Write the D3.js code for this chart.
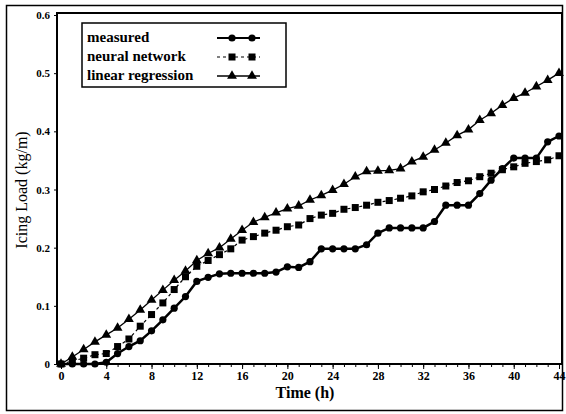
<!DOCTYPE html>
<html>
<head>
<meta charset="utf-8">
<script src="https://cdn.jsdelivr.net/npm/d3@7"></script>
<style>
  body { margin: 0; background: #fff; }
  svg text { font-family: "Liberation Serif", "Times New Roman", serif; fill: #000; }
</style>
</head>
<body>
<svg id="chart"></svg>
<script>
// data, one value per hour
const hours = d3.range(0, 45);
const measured = [0, 0, 0, 0, 0.003, 0.018, 0.03, 0.04, 0.057, 0.076, 0.096, 0.116, 0.142, 0.149, 0.155,
  0.156, 0.156, 0.156, 0.156, 0.158, 0.167, 0.166, 0.176, 0.198, 0.198, 0.198, 0.198, 0.205, 0.225, 0.234,
  0.234, 0.234, 0.234, 0.245, 0.273, 0.273, 0.273, 0.293, 0.316, 0.336, 0.354, 0.354, 0.354, 0.382, 0.392];
const neural = [0, 0.005, 0.01, 0.016, 0.018, 0.03, 0.043, 0.065, 0.085, 0.105, 0.128, 0.15, 0.168, 0.178, 0.188,
  0.198, 0.213, 0.219, 0.225, 0.23, 0.236, 0.239, 0.25, 0.256, 0.259, 0.266, 0.269, 0.273, 0.278, 0.281,
  0.285, 0.289, 0.296, 0.3, 0.306, 0.312, 0.315, 0.322, 0.328, 0.334, 0.339, 0.345, 0.348, 0.351, 0.358];
const linear = [0, 0.012, 0.025, 0.038, 0.05, 0.062, 0.077, 0.093, 0.11, 0.127, 0.144, 0.16, 0.178, 0.19, 0.2,
  0.215, 0.23, 0.244, 0.252, 0.26, 0.267, 0.272, 0.282, 0.29, 0.299, 0.309, 0.322, 0.331, 0.332, 0.333,
  0.336, 0.348, 0.356, 0.368, 0.38, 0.393, 0.403, 0.419, 0.431, 0.445, 0.457, 0.466, 0.477, 0.488, 0.5];
const xTicks = [0, 4, 8, 12, 16, 20, 24, 28, 32, 36, 40, 44];
const yTicks = [0, 0.1, 0.2, 0.3, 0.4, 0.5, 0.6];
const seriesNames = ["measured", "neural network", "linear regression"];

const width = 566, height = 414;
const box = {left: 57, right: 562, top: 13, bottom: 364};

const svg = d3.select('#chart')
    .attr('width', width)
    .attr('height', height);

// outer frame
svg.append('rect')
    .attr('x', 6.5).attr('y', 5.5)
    .attr('width', 556).attr('height', 405)
    .attr('fill', 'none').attr('stroke', '#000').attr('stroke-width', 1.5);

const x = d3.scaleLinear().domain([0, 44]).range([61, 559]);
const y = d3.scaleLinear().domain([0, 0.6]).range([364, 15]);

// x axis (major + hourly minor ticks)
svg.append('g')
    .attr('transform', 'translate(0,' + box.bottom + ')')
    .call(d3.axisBottom(x).tickValues(hours).tickSize(3).tickFormat(''))
    .call(g => g.select('.domain').remove());
svg.append('g')
    .attr('transform', 'translate(0,' + box.bottom + ')')
    .call(d3.axisBottom(x).tickValues(xTicks).tickSize(5).tickPadding(2).tickFormat(d3.format('d')))
    .call(g => g.select('.domain').remove())
    .selectAll('text')
    .style('font-size', '12px')
    .style('font-weight', 'bold');

// y axis
svg.append('g')
    .attr('transform', 'translate(' + box.left + ',0)')
    .call(d3.axisLeft(y).tickValues(yTicks).tickSize(3).tickPadding(4)
        .tickFormat(d => d === 0 ? '0' : d3.format('.1f')(d)))
    .call(g => g.select('.domain').remove())
    .selectAll('text')
    .style('font-size', '11px')
    .style('font-weight', 'bold');

// plot box
svg.append('rect')
    .attr('x', box.left).attr('y', box.top)
    .attr('width', box.right - box.left).attr('height', box.bottom - box.top)
    .attr('fill', 'none').attr('stroke', '#000').attr('stroke-width', 2);

// axis titles
svg.append('text')
    .attr('x', 305).attr('y', 398)
    .attr('text-anchor', 'middle')
    .style('font-size', '16px').style('font-weight', 'bold')
    .text('Time (h)');
svg.append('text')
    .attr('transform', 'translate(27,190) rotate(-90)')
    .attr('text-anchor', 'middle')
    .style('font-size', '16px')
    .text('Icing Load (kg/m)');

const line = d3.line().x((d, i) => x(hours[i])).y(d => y(d));

function drawMarker(g, type, cx, cy) {
    if (type === 'circle') {
        g.append('circle').attr('cx', cx).attr('cy', cy).attr('r', 3.6).attr('fill', '#000');
    } else if (type === 'square') {
        g.append('rect').attr('x', cx - 3.5).attr('y', cy - 3.5).attr('width', 7).attr('height', 7).attr('fill', '#000');
    } else {
        g.append('path')
            .attr('d', d3.symbol().type(d3.symbolTriangle).size(42)())
            .attr('transform', 'translate(' + cx + ',' + cy + ')')
            .attr('fill', '#000');
    }
}

const series = [
    {values: linear, marker: 'triangle', width: 1.3, dash: null},
    {values: neural, marker: 'square', width: 1.2, dash: '3,3'},
    {values: measured, marker: 'circle', width: 2.5, dash: null}
];

series.forEach(function(s) {
    const g = svg.append('g');
    g.append('path')
        .datum(s.values)
        .attr('d', line)
        .attr('fill', 'none')
        .attr('stroke', '#000')
        .attr('stroke-width', s.width)
        .attr('stroke-dasharray', s.dash);
    s.values.forEach(function(v, i) {
        drawMarker(g, s.marker, x(hours[i]), y(v));
    });
});

// legend
const legend = svg.append('g');
legend.append('rect')
    .attr('x', 82).attr('y', 23).attr('width', 204).attr('height', 64)
    .attr('fill', '#fff').attr('stroke', '#000').attr('stroke-width', 1.5);
const legendStyle = [
    {marker: 'circle', width: 2.2, dash: null},
    {marker: 'square', width: 1.2, dash: '3,3'},
    {marker: 'triangle', width: 1.3, dash: null}
];
seriesNames.forEach(function(name, i) {
    const ly = 38 + i * 19;
    legend.append('text')
        .attr('x', 87).attr('y', ly + 4)
        .style('font-size', '15px').style('font-weight', 'bold')
        .text(name);
    legend.append('line')
        .attr('x1', 217).attr('x2', 260).attr('y1', ly).attr('y2', ly)
        .attr('stroke', '#000')
        .attr('stroke-width', legendStyle[i].width)
        .attr('stroke-dasharray', legendStyle[i].dash);
    drawMarker(legend, legendStyle[i].marker, 232, ly);
    drawMarker(legend, legendStyle[i].marker, 252, ly);
});
</script>
</body>
</html>
